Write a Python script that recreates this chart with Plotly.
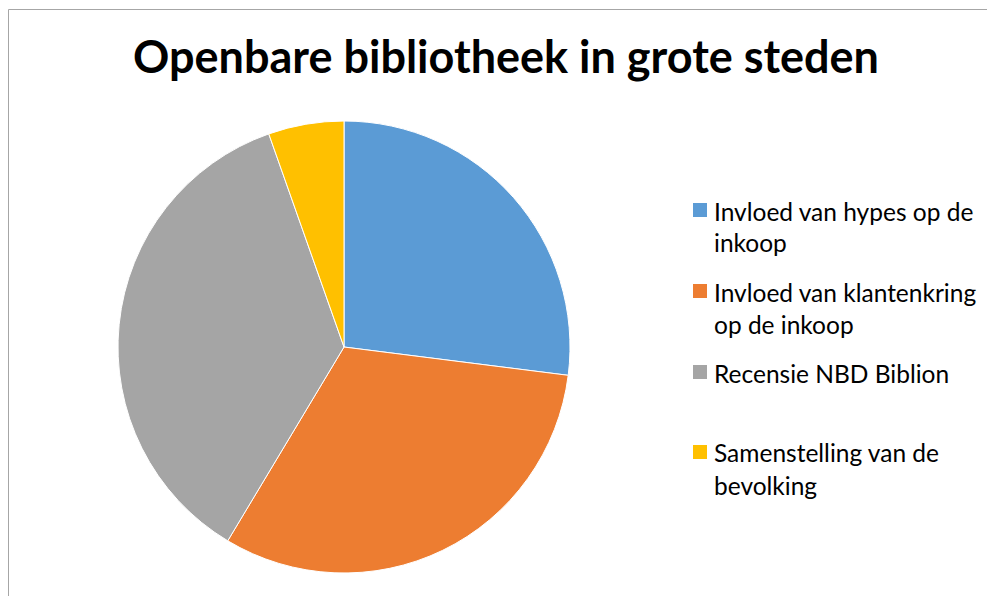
import plotly.graph_objects as go

# Data
categories = [
    "Invloed van hypes op de inkoop",
    "Invloed van klantenkring op de inkoop",
    "Recensie NBD Biblion",
    "Samenstelling van de bevolking",
]
legend_lines = [
    ["Invloed van hypes op de", "inkoop"],
    ["Invloed van klantenkring", "op de inkoop"],
    ["Recensie NBD Biblion"],
    ["Samenstelling van de", "bevolking"],
]
values = [27.0, 31.6, 36.0, 5.4]
colors = ["#5B9BD5", "#ED7D31", "#A5A5A5", "#FFC000"]
title_text = "Openbare bibliotheek in grote steden"

W, H = 995, 596
FONT = "Lato"
OFF = 8  # page body margin compensation

cx, cy0, r = 344 - OFF, 347 - OFF, 226

fig = go.Figure()
fig.add_trace(go.Pie(
    labels=categories,
    values=values,
    sort=False,
    direction="clockwise",
    rotation=0,
    marker=dict(colors=colors, line=dict(color="white", width=1)),
    textinfo="none",
    hoverinfo="label+percent",
    showlegend=False,
    domain=dict(x=[(cx - r) / W, (cx + r) / W],
                y=[1 - (cy0 + r) / H, 1 - (cy0 - r) / H]),
))

shapes = []
annotations = []
# chart border (cropped at right/bottom)
shapes.append(dict(type="rect", xref="paper", yref="paper",
                   x0=0.5 / W, x1=1.02, y0=-0.02, y1=1 - 1.5 / H,
                   line=dict(color="#A6A6A6", width=1), fillcolor="rgba(0,0,0,0)",
                   layer="below"))

# manual legend
entry_y = [210, 291, 372, 452]
for i, lines in enumerate(legend_lines):
    ey = entry_y[i] - OFF
    shapes.append(dict(type="rect", xref="paper", yref="paper",
                       x0=(693 - OFF) / W, x1=(707 - OFF) / W,
                       y0=1 - (ey + 7) / H, y1=1 - (ey - 7) / H,
                       fillcolor=colors[i], line=dict(width=0)))
    for j, ln in enumerate(lines):
        annotations.append(dict(
            text=ln, xref="paper", yref="paper",
            x=(712 - OFF) / W, y=1 - (ey + 32 * j + 1) / H,
            xanchor="left", yanchor="middle", showarrow=False,
            font=dict(family=FONT, size=24.5, color="#000000"),
        ))

fig.update_layout(
    width=W, height=H,
    margin=dict(l=0, r=0, t=0, b=0),
    paper_bgcolor="white",
    plot_bgcolor="white",
    title=dict(text="<b>" + title_text + "</b>", x=(506 - OFF) / W, xanchor="center",
               y=1 - (57 - OFF) / H, yanchor="middle", yref="container",
               font=dict(family=FONT, size=45, color="#000000")),
    shapes=shapes,
    annotations=annotations,
)

fig.write_html("out.html")
